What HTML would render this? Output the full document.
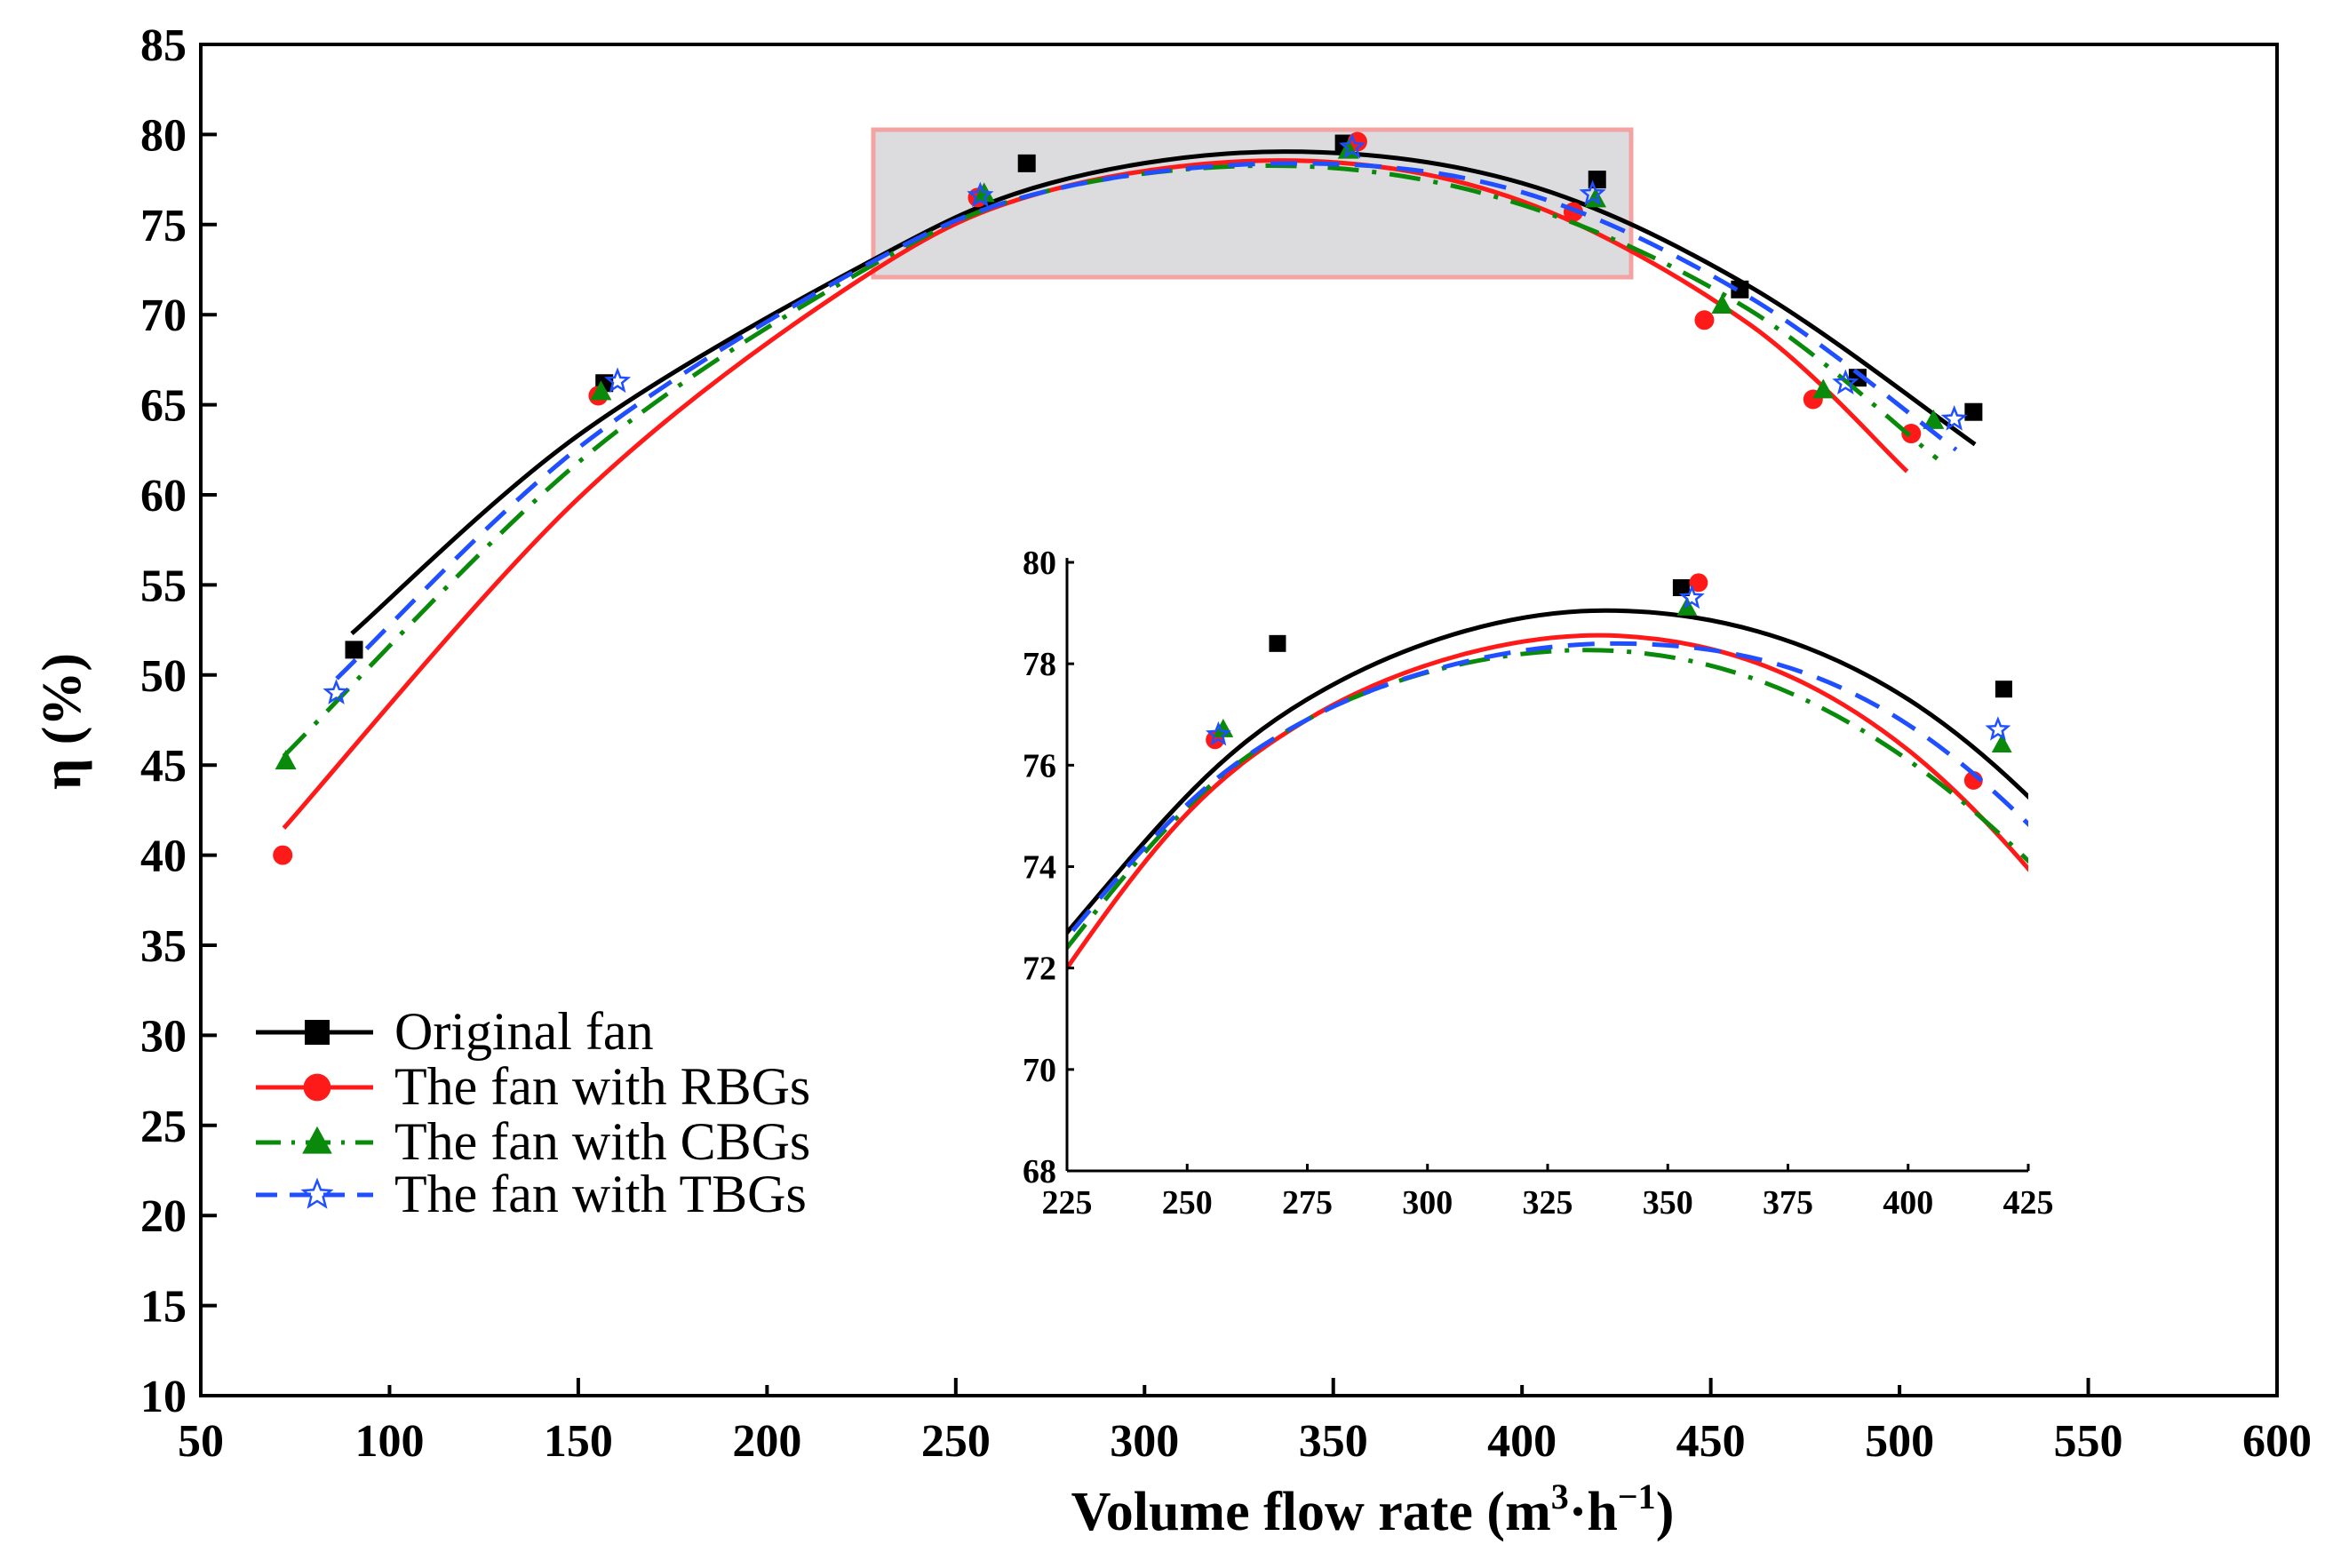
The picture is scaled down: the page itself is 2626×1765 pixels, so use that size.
<!DOCTYPE html>
<html><head><meta charset="utf-8"><style>
html,body{margin:0;padding:0;background:#fff;width:2626px;height:1765px;overflow:hidden;}
svg{display:block;}
text{font-family:"Liberation Serif",serif;}
</style></head><body>
<svg id="chart" width="2626" height="1765" viewBox="0 0 2626 1765">
<g id="main"></g>
</svg>
<script>
const xTicks=[50,100,150,200,250,300,350,400,450,500,550,600];
const yTicks=[10,15,20,25,30,35,40,45,50,55,60,65,70,75,80,85];
const inXTicks=[225,250,275,300,325,350,375,400,425];
const inYTicks=[68,70,72,74,76,78,80];
const seriesNames=["Original fan","The fan with RBGs","The fan with CBGs","The fan with TBGs"];
// scatter data
const origX=[90.6,156.9,268.8,352.8,419.9,457.7,488.9,519.6];
const origY=[51.4,66.2,78.4,79.5,77.5,71.4,66.5,64.6];
const rbgX=[71.7,155.3,255.8,356.4,413.6,448.3,477.1,503.1];
const rbgY=[40.0,65.5,76.5,79.6,75.7,69.7,65.3,63.4];
const cbgX=[72.5,156,257.5,354,419.5,453,479.8,509];
const cbgY=[45.2,65.7,76.7,79.1,76.4,70.5,65.8,64.1];
const tbgX=[85.9,160.4,256.5,355,418.7,485.7,514.5];
const tbgY=[49.0,66.3,76.6,79.3,76.7,66.2,64.2];
// fitted curve readings
const origFitX=[90,150,225,275,337,400,460,520];
const origFitY=[52.3,63.3,72.7,77.3,79.05,77.3,71.6,62.8];
const rbgFitX=[72,150,225,275,340,400,460,502];
const rbgFitY=[41.5,59.8,72.0,76.9,78.55,76.3,69.5,61.3];
const cbgFitX=[72,150,225,275,340,400,460,510];
const cbgFitY=[45.5,61.8,72.4,76.9,78.25,76.1,70.3,62.0];
const tbgFitX=[86,150,225,275,340,400,460,515];
const tbgFitY=[49.8,62.6,72.6,76.9,78.4,76.8,71.0,62.5];

const NS="http://www.w3.org/2000/svg";
const root=document.getElementById('main');
function mk(tag,attrs,parent){const e=document.createElementNS(NS,tag);for(const k in attrs)e.setAttribute(k,attrs[k]);(parent||root).appendChild(e);return e;}
const M={l:226,r:2563,t:50,b:1571,x0:50,x1:600,y0:10,y1:85};
const I={l:1201,r:2283,t:633,b:1318,x0:225,x1:425,y0:68,y1:80};
function sx(A,v){return A.l+(v-A.x0)/(A.x1-A.x0)*(A.r-A.l);}
function sy(A,v){return A.b-(v-A.y0)/(A.y1-A.y0)*(A.b-A.t);}

let box=mk('rect',{x:983,y:146,width:853,height:166,fill:'#dcdbdd',stroke:'#f4a3a3','stroke-width':5});



let fr=mk('rect',{x:M.l,y:M.t,width:M.r-M.l,height:M.b-M.t,fill:'none',stroke:'#000','stroke-width':4});


xTicks.forEach((v,i)=>{const x=sx(M,v);
 mk('line',{x1:x,y1:M.b,x2:x,y2:M.b-(i%2===0?20:12),stroke:'#000','stroke-width':4});
 let t=mk('text',{x:x,y:M.b+68,'text-anchor':'middle','font-size':52,'font-weight':'bold'});t.textContent=v;
 
 });
yTicks.forEach(v=>{const y=sy(M,v);
 mk('line',{x1:M.l,y1:y,x2:M.l+18,y2:y,stroke:'#000','stroke-width':4});
 let t=mk('text',{x:M.l-16,y:y+18,'text-anchor':'end','font-size':52,'font-weight':'bold'});t.textContent=v;
 
 });
let xt=mk('text',{x:1545,y:1722,'text-anchor':'middle','font-size':62,'font-weight':'bold'});
xt.innerHTML='Volume flow rate (m<tspan dy="-24" font-size="40">3</tspan><tspan dy="24">·h</tspan><tspan dy="-24" font-size="40">−1</tspan><tspan dy="24">)</tspan>';


let yt=mk('text',{x:0,y:0,'text-anchor':'middle','font-size':62,'font-weight':'bold',transform:'translate(90,812) rotate(-90)'});
yt.textContent='η (%)';



const styles=[
 {c:'#000000',d:'',m:'sq'},
 {c:'#ff1a1a',d:'',m:'ci'},
 {c:'#0a8a0a',d:'28 12 4 12',m:'tr'},
 {c:'#1f4fff',d:'24 14',m:'st'}];
function marker(type,x,y,s,c,parent){
 if(type==='sq')return mk('rect',{x:x-s/2,y:y-s/2,width:s,height:s,fill:c},parent);
 if(type==='ci')return mk('circle',{cx:x,cy:y,r:s*0.55,fill:c},parent);
 if(type==='tr')return mk('polygon',{points:`${x},${y-s*0.65} ${x-s*0.6},${y+s*0.45} ${x+s*0.6},${y+s*0.45}`,fill:c},parent);
 let p=[];for(let k=0;k<10;k++){const r=k%2?s*0.27:s*0.62;const a=-Math.PI/2+k*Math.PI/5;p.push((x+r*Math.cos(a)).toFixed(1)+','+(y+r*Math.sin(a)).toFixed(1));}
 return mk('polygon',{points:p.join(' '),fill:'none',stroke:c,'stroke-width':2.5},parent);
}
function splinePath(pts){let d='M'+pts[0][0]+','+pts[0][1];
 for(let i=0;i<pts.length-1;i++){const p0=pts[Math.max(0,i-1)],p1=pts[i],p2=pts[i+1],p3=pts[Math.min(pts.length-1,i+2)];
  d+=` C${p1[0]+(p2[0]-p0[0])/6},${p1[1]+(p2[1]-p0[1])/6} ${p2[0]-(p3[0]-p1[0])/6},${p2[1]-(p3[1]-p1[1])/6} ${p2[0]},${p2[1]}`;}
 return d;}
const fitsX=[origFitX,rbgFitX,cbgFitX,tbgFitX],fitsY=[origFitY,rbgFitY,cbgFitY,tbgFitY];
const ptsX=[origX,rbgX,cbgX,tbgX],ptsY=[origY,rbgY,cbgY,tbgY];
const keys=['original','rbg','cbg','tbg'];
function drawSeries(A,sw,ms,clipId,filt){
 for(let s=0;s<4;s++){
  const st=styles[s];
  const pts=[];fitsX[s].forEach((v,i)=>{pts.push([sx(A,v),sy(A,fitsY[s][i])]);});
  let p=mk('path',{d:splinePath(pts),fill:'none',stroke:st.c,'stroke-width':sw,'stroke-dasharray':st.d?st.d.split(' ').map(n=>n*sw/4).join(' '):'none','clip-path':clipId?`url(#${clipId})`:''});
  
  
  ptsX[s].forEach((v,i)=>{if(!filt(v))return;
   let m=marker(st.m,sx(A,v),sy(A,ptsY[s][i]),ms,st.c);
   
   });
 }
}
drawSeries(M,5,20,null,v=>true);

const defs=mk('defs',{});
const cp=mk('clipPath',{id:'inclip'},defs);
mk('rect',{x:I.l,y:I.t-40,width:I.r-I.l,height:I.b-I.t+40},cp);
let ib=mk('rect',{x:I.l-10,y:I.t-30,width:I.r-I.l+40,height:I.b-I.t+110,fill:'#fff'});


drawSeries(I,5,19,'inclip',v=>v>=225&&v<=425);
mk('line',{x1:I.l,y1:I.t-5,x2:I.l,y2:I.b,stroke:'#000','stroke-width':3});
mk('line',{x1:I.l,y1:I.b,x2:I.r,y2:I.b,stroke:'#000','stroke-width':3});
inXTicks.forEach(v=>{const x=sx(I,v);
 mk('line',{x1:x,y1:I.b,x2:x,y2:I.b-8,stroke:'#000','stroke-width':3});
 let t=mk('text',{x:x,y:I.b+48,'text-anchor':'middle','font-size':38,'font-weight':'bold'});t.textContent=v;
 
 });
inYTicks.forEach(v=>{const y=sy(I,v);
 mk('line',{x1:I.l,y1:y,x2:I.l+8,y2:y,stroke:'#000','stroke-width':3});
 let t=mk('text',{x:I.l-12,y:y+13,'text-anchor':'end','font-size':38,'font-weight':'bold'});t.textContent=v;
 
 });

const legY=[1162,1224,1286,1345];
for(let s=0;s<4;s++){const st=styles[s];
 let g=mk('g',{});
 
 
 mk('line',{x1:288,y1:legY[s],x2:420,y2:legY[s],stroke:st.c,'stroke-width':5,'stroke-dasharray':st.d||'none'},g);
 marker(st.m,357,legY[s],s===3?26:28,st.c,g);
 let t=mk('text',{x:444,y:legY[s]+19,'font-size':60},g);t.textContent=seriesNames[s];}
</script>
</body></html>
